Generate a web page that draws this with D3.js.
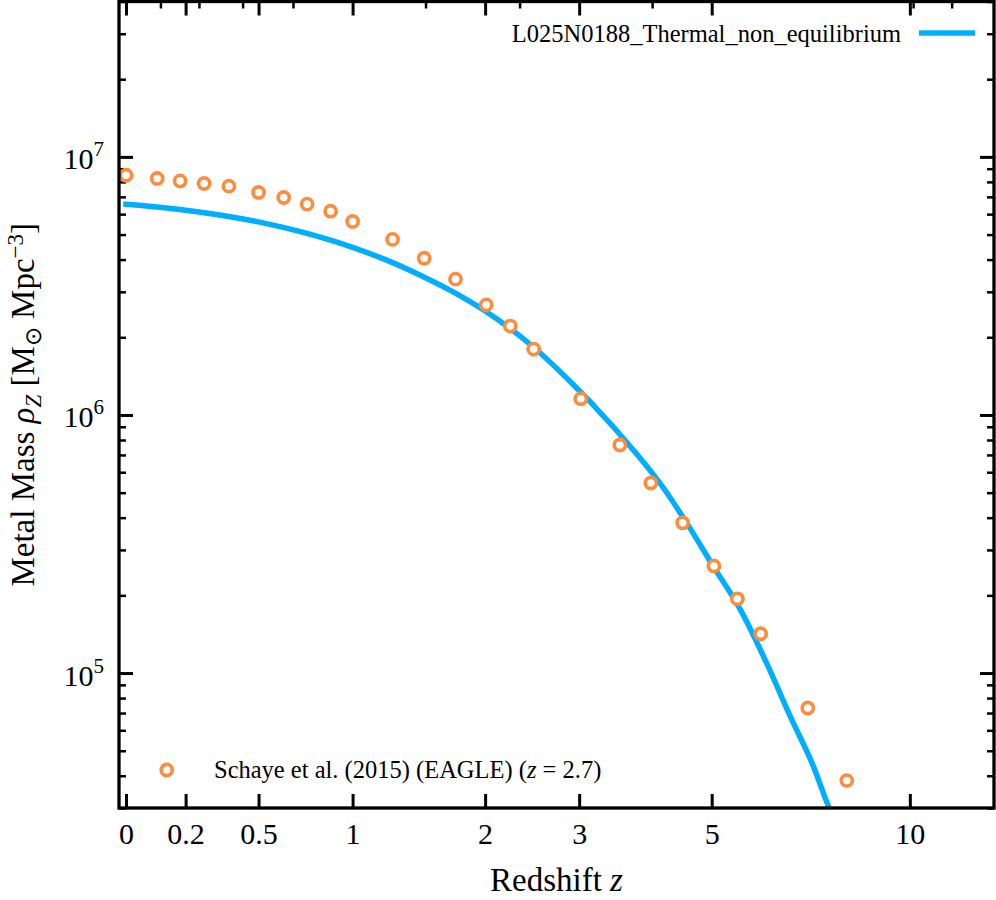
<!DOCTYPE html>
<html>
<head>
<meta charset="utf-8">
<script src="https://cdn.jsdelivr.net/npm/d3@7"></script>
<style>
body { margin: 0; background: #fff; }
text { font-family: "Liberation Serif", "Times New Roman", serif; fill: #000; }
</style>
</head>
<body>
<div id="chart"></div>
<script>
// Schaye et al. (2015) EAGLE points
var eagleZ = [0, 0.10, 0.18, 0.27, 0.37, 0.50, 0.62, 0.74, 0.87, 1.00, 1.26, 1.49, 1.74,
              2.01, 2.24, 2.48, 3.02, 3.53, 3.98, 4.49, 5.04, 5.49, 5.97, 7.05, 8.07];
var eagleRho = [8.49e6, 8.25e6, 8.07e6, 7.89e6, 7.70e6, 7.28e6, 6.96e6, 6.56e6, 6.16e6, 5.62e6,
                4.79e6, 4.05e6, 3.36e6, 2.67e6, 2.21e6, 1.80e6, 1.156e6, 7.65e5, 5.45e5,
                3.82e5, 2.60e5, 1.94e5, 1.42e5, 7.32e4, 3.83e4];

// L025N0188_Thermal_non_equilibrium run
var simZ = [0, 0.1, 0.25, 0.5, 0.74, 1.0, 1.22, 1.46, 1.72, 2.0, 2.48, 2.93, 3.18, 3.72,
            4.18, 4.56, 5.03, 5.55, 6.10, 6.63, 7.19, 7.58, 7.62];
var simRho = [6.56e6, 6.40e6, 6.12e6, 5.60e6, 5.05e6, 4.46e6, 3.98e6, 3.48e6, 3.00e6, 2.53e6,
              1.83e6, 1.31e6, 1.09e6, 7.32e5, 5.20e5, 3.81e5, 2.59e5, 1.76e5, 1.09e5,
              6.79e4, 4.35e4, 3.04e4, 2.95e4];

var xTicks = [0, 0.2, 0.5, 1, 2, 3, 5, 10];
var xTickLabels = ["0", "0.2", "0.5", "1", "2", "3", "5", "10"];
var topMinorA = [0.9, 0.8, 0.7, 0.6, 0.4, 0.3, 0.2, 0.09, 0.08];   // expansion factor
var yMajor = [1e5, 1e6, 1e7];
var yExp = ["5", "6", "7"];

var zMin = -0.0212, zMax = 13.23;
var rhoMin = 3.0e4, rhoMax = 4.0e7;

var width = 996, height = 900;
var margin = {top: 1.5, right: 2, bottom: 92, left: 119};
var w = width - margin.left - margin.right;
var h = height - margin.top - margin.bottom;

var blue = "#00aeff", orange = "#fd8c3e";

var svg = d3.select("#chart")
    .append("svg")
        .attr("width", width)
        .attr("height", height)
    .append("g")
        .attr("transform", "translate(" + margin.left + "," + margin.top + ")");

// x is log(1+z)
var xScale = d3.scaleLog()
    .domain([1 + zMin, 1 + zMax])
    .range([0, w]);

var yScale = d3.scaleLog()
    .domain([rhoMin, rhoMax])
    .range([h, 0]);

var yMinor = yScale.ticks().filter(function(v) {
    return yMajor.indexOf(v) < 0 && v >= rhoMin && v <= rhoMax;
});

function styleTicks(g, sw) {
    g.select(".domain").remove();
    g.selectAll("line").attr("stroke", "#000").attr("stroke-width", sw);
}

// bottom axis with labels
var xBottom = svg.append("g")
    .attr("transform", "translate(0," + h + ")")
    .call(d3.axisBottom(xScale)
        .tickValues(xTicks.map(function(z) { return 1 + z; }))
        .tickFormat(function(d, i) { return xTickLabels[i]; })
        .tickSize(-14).tickSizeOuter(0).tickPadding(15));
styleTicks(xBottom, 3);
xBottom.selectAll("text").attr("font-size", 30).attr("font-family", "Liberation Serif");

// top axis: mirrored majors and expansion factor minors
var xTop = svg.append("g")
    .call(d3.axisTop(xScale)
        .tickValues(xTicks.map(function(z) { return 1 + z; }))
        .tickFormat("").tickSize(-14).tickSizeOuter(0));
styleTicks(xTop, 3);
var xTopMinor = svg.append("g")
    .call(d3.axisTop(xScale)
        .tickValues(topMinorA.map(function(a) { return 1 / a; }))
        .tickFormat("").tickSize(-7).tickSizeOuter(0));
styleTicks(xTopMinor, 2.5);

// left axis
var yLeft = svg.append("g")
    .call(d3.axisLeft(yScale)
        .tickValues(yMajor)
        .tickSize(-14).tickSizeOuter(0).tickPadding(15));
styleTicks(yLeft, 3);
yLeft.selectAll("text")
    .attr("font-size", 30)
    .attr("font-family", "Liberation Serif")
    .attr("dy", 12)
    .text("")
    .each(function(d, i) {
        var t = d3.select(this);
        t.append("tspan").text("10");
        t.append("tspan").attr("dy", -13).attr("font-size", 21).text(yExp[i]);
    });
var yLeftMinor = svg.append("g")
    .call(d3.axisLeft(yScale).tickValues(yMinor).tickFormat("").tickSize(-7).tickSizeOuter(0));
styleTicks(yLeftMinor, 2.5);

// right axis
var yRight = svg.append("g")
    .attr("transform", "translate(" + w + ",0)")
    .call(d3.axisRight(yScale).tickValues(yMajor).tickFormat("").tickSize(-14).tickSizeOuter(0));
styleTicks(yRight, 3);
var yRightMinor = svg.append("g")
    .attr("transform", "translate(" + w + ",0)")
    .call(d3.axisRight(yScale).tickValues(yMinor).tickFormat("").tickSize(-7).tickSizeOuter(0));
styleTicks(yRightMinor, 2.5);

// clip
svg.append("clipPath")
    .attr("id", "plotclip")
    .append("rect")
        .attr("width", w)
        .attr("height", h);

var plot = svg.append("g").attr("clip-path", "url(#plotclip)");

var line = d3.line()
    .x(function(d) { return xScale(1 + d[0]); })
    .y(function(d) { return yScale(d[1]); })
    .curve(d3.curveMonotoneX);

plot.append("path")
    .datum(d3.zip(simZ, simRho))
    .attr("d", line)
    .attr("fill", "none")
    .attr("stroke", blue)
    .attr("stroke-width", 5.5)
    .attr("stroke-linecap", "square");

svg.append("g")
    .selectAll("circle")
    .data(d3.zip(eagleZ, eagleRho))
    .enter()
    .append("circle")
        .attr("cx", function(d) { return xScale(1 + d[0]); })
        .attr("cy", function(d) { return yScale(d[1]); })
        .attr("r", 5.6)
        .attr("fill", "#fff")
        .attr("stroke", orange)
        .attr("stroke-width", 3.6);

// frame
svg.append("rect")
    .attr("width", w)
    .attr("height", h)
    .attr("fill", "none")
    .attr("stroke", "#000")
    .attr("stroke-width", 3.3);

// legends
svg.append("text")
    .attr("x", 782)
    .attr("y", 40.5)
    .attr("text-anchor", "end")
    .attr("font-size", 24.5)
    .text("L025N0188_Thermal_non_equilibrium");
svg.append("line")
    .attr("x1", 800).attr("x2", 856)
    .attr("y1", 31.5).attr("y2", 31.5)
    .attr("stroke", blue)
    .attr("stroke-width", 5.5);

svg.append("circle")
    .attr("cx", 47.7)
    .attr("cy", 768.5)
    .attr("r", 5.6)
    .attr("fill", "#fff")
    .attr("stroke", orange)
    .attr("stroke-width", 3.6);
var leg2 = svg.append("text")
    .attr("x", 95)
    .attr("y", 776.8)
    .attr("font-size", 24.5);
leg2.append("tspan").text("Schaye et al. (2015) (EAGLE) (");
leg2.append("tspan").attr("font-style", "italic").text("z");
leg2.append("tspan").text(" = 2.7)");

// axis labels
var xl = svg.append("text")
    .attr("x", w / 2)
    .attr("y", 889.5)
    .attr("text-anchor", "middle")
    .attr("font-size", 33);
xl.append("tspan").text("Redshift ");
xl.append("tspan").attr("font-style", "italic").text("z");

var yl = svg.append("text")
    .attr("transform", "translate(-85," + (h / 2) + ") rotate(-90)")
    .attr("text-anchor", "middle")
    .attr("font-size", 33);
yl.append("tspan").text("Metal Mass ");
yl.append("tspan").attr("font-style", "italic").text("ρ");
yl.append("tspan").attr("font-style", "italic").attr("font-size", 23).attr("dy", 7).text("Z");
yl.append("tspan").attr("dy", -7).text(" [M");
yl.append("tspan").attr("font-size", 23).attr("dy", 7).text("⊙");
yl.append("tspan").attr("dy", -7).text(" Mpc");
yl.append("tspan").attr("font-size", 23).attr("dy", -11).text("−3");
yl.append("tspan").attr("dy", 11).text("]");
</script>
</body>
</html>
